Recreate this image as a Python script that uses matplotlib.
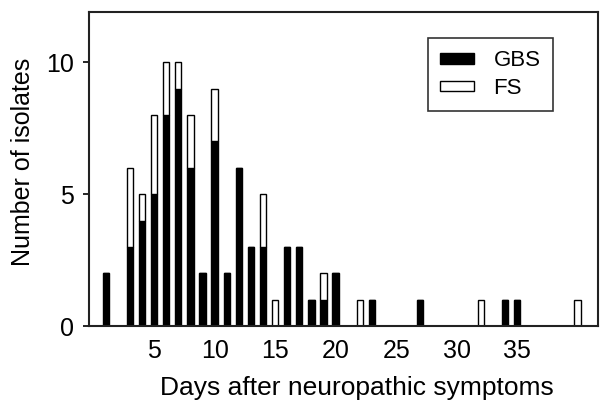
import numpy as np
import matplotlib.pyplot as plt

plt.rcParams['font.family'] = ['Liberation Sans', 'DejaVu Sans']

# --------------------------------
# Data
# --------------------------------
days = [1, 3, 4, 5, 6, 7, 8, 9, 10, 11, 12, 13, 14, 15, 16, 17, 18, 19, 20,
        22, 23, 27, 32, 34, 35, 40]
gbs = [2, 3, 4, 5, 8, 9, 6, 2, 7, 2, 6, 3, 3, 0, 3, 3, 1, 1, 2,
       0, 1, 1, 0, 1, 1, 0]
fs = [0, 3, 1, 3, 2, 1, 2, 0, 2, 0, 0, 0, 2, 1, 0, 0, 0, 1, 0,
      1, 0, 0, 1, 0, 0, 1]

x_ticks = [5, 10, 15, 20, 25, 30, 35]
y_ticks = [0, 5, 10]

# --------------------------------
# Plot
# --------------------------------
fig = plt.figure(figsize=(6, 4.03), dpi=100)
ax = fig.add_axes([0.148, 0.191, 0.849, 0.779])

w = 0.52
ax.bar(days, gbs, width=w, color='black', edgecolor='black', linewidth=1,
       label='GBS')
ax.bar(days, fs, width=w, bottom=gbs, color='white', edgecolor='black',
       linewidth=1, label='FS')

ax.set_xlim(-0.4, 41.7)
ax.set_ylim(0, 11.9)
ax.set_xticks(x_ticks)
ax.set_yticks(y_ticks)
ax.tick_params(axis='x', length=0, labelsize=18, pad=9)
ax.tick_params(axis='y', direction='out', length=4, width=1.2, labelsize=18,
               pad=7)

for s in ax.spines.values():
    s.set_linewidth(1.5)
    s.set_color('#222222')

ax.set_xlabel("Days after neuropathic symptoms", fontsize=19, labelpad=10)
ax.xaxis.set_label_coords(0.527, -0.16)
ax.set_ylabel("Number of isolates", fontsize=18, labelpad=8)
ax.yaxis.label.set_y(0.524)

leg = ax.legend(loc='upper left', bbox_to_anchor=(0.666, 0.917), fontsize=16,
                frameon=True, fancybox=False, handlelength=1.5,
                handleheight=0.36, borderpad=0.55, labelspacing=0.3,
                handletextpad=0.9, borderaxespad=0)
leg.get_frame().set_edgecolor('black')
leg.get_frame().set_linewidth(1.2)

fig.savefig("out.png", dpi=100)
